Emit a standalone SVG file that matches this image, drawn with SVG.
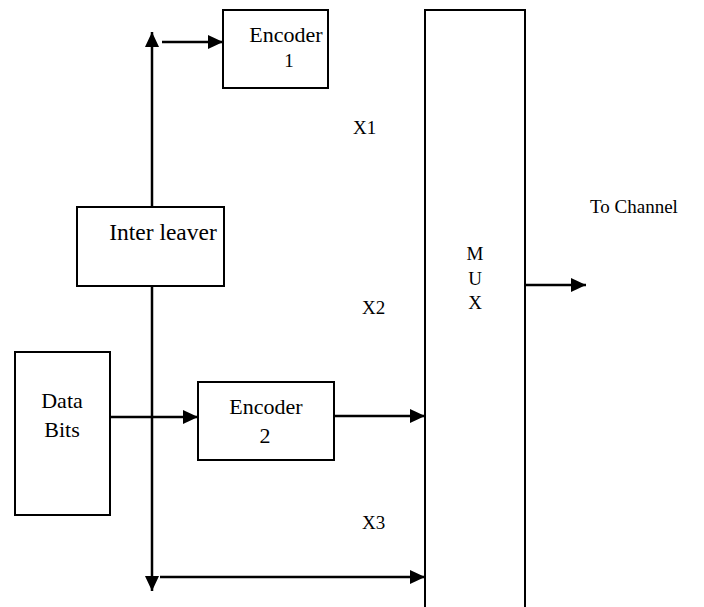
<svg xmlns="http://www.w3.org/2000/svg" width="704" height="607" viewBox="0 0 704 607">
<defs>
<marker id="arr" viewBox="0 0 15 14" refX="15" refY="7" markerWidth="15" markerHeight="14" markerUnits="userSpaceOnUse" orient="auto">
<path d="M0,0 L15,7 L0,14 Z" fill="#000"/>
</marker>
</defs>
<style>
.box{fill:#fff;stroke:#000;stroke-width:2}
.ln{fill:none;stroke:#000;stroke-width:2.5}
text{font-family:"Liberation Serif","Tinos","Times New Roman","DejaVu Serif",serif;font-size:22px;fill:#000}
.c{text-anchor:middle}
.s{font-size:19px}
</style>
<g id="connectors">
<line class="ln" x1="152" y1="207" x2="152" y2="32" marker-end="url(#arr)"/>
<line class="ln" x1="152" y1="286" x2="152" y2="591" marker-end="url(#arr)"/>
<line class="ln" x1="162" y1="42" x2="223" y2="42" marker-end="url(#arr)"/>
<line class="ln" x1="110" y1="417" x2="198" y2="417" marker-end="url(#arr)"/>
<line class="ln" x1="334" y1="416" x2="425" y2="416" marker-end="url(#arr)"/>
<line class="ln" x1="160" y1="577" x2="425" y2="577" marker-end="url(#arr)"/>
<line class="ln" x1="525" y1="285" x2="586" y2="285" marker-end="url(#arr)"/>
</g>
<g id="encoder1">
<rect class="box" x="223" y="10" width="105" height="78"/>
<text class="c" x="286" y="42">Encoder</text>
<text class="c s" x="289" y="67">1</text>
</g>
<g id="interleaver">
<rect class="box" x="77" y="207" width="147" height="79"/>
<text class="c" x="163" y="240" style="font-size:23.5px">Inter leaver</text>
</g>
<g id="databits">
<rect class="box" x="15" y="352" width="95" height="163"/>
<text class="c" x="62" y="408">Data</text>
<text class="c" x="62" y="437">Bits</text>
</g>
<g id="encoder2">
<rect class="box" x="198" y="382" width="136" height="78"/>
<text class="c" x="266" y="414">Encoder</text>
<text class="c" x="265" y="443">2</text>
</g>
<g id="mux">
<rect class="box" x="425" y="10" width="100" height="610"/>
<text class="c s" x="475" y="260">M</text>
<text class="c s" x="475" y="285">U</text>
<text class="c s" x="475" y="309">X</text>
</g>
<g id="labels">
<text class="s" x="353" y="134">X1</text>
<text class="s" x="362" y="314">X2</text>
<text class="s" x="362" y="529">X3</text>
<text class="s" x="590" y="213">To Channel</text>
</g>
</svg>
